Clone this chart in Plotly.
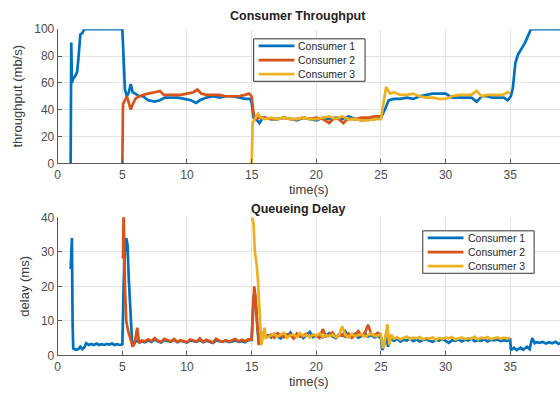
import plotly.graph_objects as go

# ---------------- data ----------------
names = ["Consumer 1", "Consumer 2", "Consumer 3"]
colors = ["#0072BD", "#D95319", "#EDB120"]

thr_c1 = [(1.0, 0), (1.05, 90), (1.1, 60), (1.2, 63), (1.35, 65), (1.5, 68), (1.6, 78), (1.7, 90),
          (1.75, 96), (1.9, 97), (2.05, 100), (5.0, 100), (5.1, 70), (5.2, 55), (5.35, 50), (5.5, 53),
          (5.65, 59), (5.8, 53), (6.0, 52), (6.3, 50), (6.6, 50), (7.0, 47), (7.5, 46), (7.9, 47),
          (8.3, 49), (8.8, 49), (9.3, 49), (9.8, 48), (10.3, 47), (10.7, 45), (11.0, 47), (11.5, 49),
          (12.0, 50), (12.5, 49), (13.0, 50), (13.5, 50), (14.0, 49), (14.5, 48), (14.9, 48),
          (15.0, 45), (15.15, 34), (15.35, 33), (15.6, 30), (15.8, 33), (16.0, 34), (16.5, 33),
          (17.0, 33), (17.5, 34), (18.0, 33), (18.5, 32), (19.0, 34), (19.5, 33), (20.0, 32),
          (20.5, 34), (21.0, 33), (21.5, 34), (22.0, 33), (22.5, 35), (23.0, 33), (23.5, 32),
          (24.0, 33), (24.5, 33), (25.0, 34), (25.3, 40), (25.6, 47), (26.0, 48), (26.5, 48),
          (27.0, 49), (27.5, 48), (28.0, 50), (28.5, 51), (29.0, 52), (29.5, 52), (30.0, 52),
          (30.5, 49), (31.0, 49), (31.5, 49), (32.0, 49), (32.4, 46), (32.8, 50), (33.2, 50),
          (33.6, 49), (34.0, 49), (34.5, 49), (34.8, 47), (35.05, 50), (35.2, 56), (35.4, 75),
          (35.6, 81), (35.9, 86), (36.15, 90), (36.6, 100), (39.0, 100)]

thr_c2 = [(5.0, 0), (5.05, 44), (5.2, 47), (5.35, 50), (5.5, 45), (5.65, 40), (5.8, 44), (6.0, 48),
          (6.3, 50), (6.6, 51), (7.0, 52), (7.5, 53), (7.9, 54), (8.2, 51), (8.6, 51), (9.0, 51),
          (9.5, 51), (10.0, 52), (10.5, 53), (10.8, 55), (11.1, 52), (11.5, 51), (12.0, 51),
          (12.5, 51), (13.0, 50), (13.5, 50), (14.0, 50), (14.5, 51), (14.8, 52), (15.0, 50),
          (15.15, 37), (15.3, 33), (15.6, 34), (16.0, 34), (16.5, 33), (17.0, 33), (17.5, 34),
          (18.0, 33), (18.5, 33), (19.0, 34), (19.5, 33), (20.0, 34), (20.5, 33), (21.0, 30),
          (21.3, 33), (21.6, 34), (22.1, 30), (22.4, 33), (23.0, 33), (23.5, 34), (24.0, 34),
          (24.5, 35), (25.0, 35)]

thr_c3 = [(15.0, 0), (15.08, 30), (15.3, 34), (15.5, 37), (15.7, 34), (16.0, 33), (16.5, 34),
          (17.0, 33), (17.5, 34), (18.0, 33), (18.5, 33), (19.0, 34), (19.5, 33), (20.0, 33),
          (20.5, 34), (21.0, 35), (21.5, 33), (22.0, 35), (22.5, 33), (23.0, 33), (23.5, 32),
          (24.0, 32), (24.5, 33), (25.0, 33), (25.2, 45), (25.4, 57), (25.7, 52), (26.0, 53),
          (26.5, 51), (27.0, 51), (27.5, 52), (28.0, 50), (28.5, 49), (29.0, 49), (29.5, 48),
          (30.0, 48), (30.5, 50), (31.0, 51), (31.5, 51), (32.0, 51), (32.4, 54), (32.8, 50),
          (33.2, 51), (33.6, 51), (34.0, 51), (34.4, 51), (34.8, 53), (35.0, 52)]

dly_c1 = [(1.0, 25), (1.05, 34), (1.1, 34), (1.15, 10), (1.2, 2), (1.4, 1.6), (1.6, 1.8), (1.75, 2.5),
          (1.9, 1.8), (2.05, 2.2), (2.2, 3.5), (2.4, 3.0), (2.6, 3.3), (2.8, 3.0), (3.0, 3.4),
          (3.2, 3.0), (3.4, 3.2), (3.6, 3.0), (3.8, 3.3), (4.0, 3.1), (4.2, 3.4), (4.4, 3.0),
          (4.6, 3.2), (4.8, 3.0), (5.0, 3.2), (5.1, 20), (5.2, 30), (5.3, 34), (5.4, 32), (5.5, 22),
          (5.65, 10), (5.75, 4), (5.9, 3.5), (6.1, 4.2), (6.3, 4.0),
          (6.5, 4.1), (6.75, 3.8), (7.0, 4.3), (7.25, 3.9), (7.5, 4.6), (7.75, 4.0), (8.0, 3.7),
          (8.25, 4.4), (8.5, 4.1), (8.75, 3.9), (9.0, 4.5), (9.25, 3.8), (9.5, 4.2), (9.75, 4.0),
          (10.0, 3.7), (10.25, 4.3), (10.5, 4.1), (10.75, 3.9), (11.0, 4.4), (11.25, 3.8),
          (11.5, 4.2), (11.75, 4.0), (12.0, 3.6), (12.25, 4.3), (12.5, 4.1), (12.75, 3.9),
          (13.0, 4.2), (13.25, 3.8), (13.5, 4.0), (13.75, 4.3), (14.0, 3.9), (14.25, 4.1),
          (14.5, 3.8), (14.75, 4.4), (15.0, 4.5), (15.15, 17), (15.25, 18), (15.4, 10), (15.55, 3),
          (15.7, 6), (15.9, 6.5), (16.1, 5.5),
          (16.25, 5.8), (16.5, 5.2), (16.75, 6.3), (17.0, 5.5), (17.25, 4.9), (17.5, 6.0),
          (17.75, 5.4), (18.0, 6.6), (18.25, 5.1), (18.5, 5.7), (18.75, 6.2), (19.0, 5.0),
          (19.25, 5.9), (19.5, 6.8), (19.75, 5.3), (20.0, 5.6), (20.25, 6.1), (20.5, 5.2),
          (20.75, 5.8), (21.0, 6.4), (21.25, 5.5), (21.5, 5.0), (21.75, 6.0), (22.0, 5.7),
          (22.25, 6.9), (22.5, 5.3), (22.75, 5.8), (23.0, 6.2), (23.25, 5.1), (23.5, 5.6),
          (23.75, 6.5), (24.0, 5.4), (24.25, 5.9), (24.5, 5.2), (24.75, 5.7), (25.0, 5.0),
          (25.1, 1.5), (25.25, 3.0), (25.4, 6.0), (25.55, 2.5), (25.7, 5.0),
          (26.0, 4.2), (26.25, 4.8), (26.5, 4.0), (26.75, 4.5), (27.0, 4.3), (27.25, 4.9),
          (27.5, 4.1), (27.75, 4.6), (28.0, 4.0), (28.25, 4.4), (28.5, 4.7), (28.75, 4.2),
          (29.0, 3.9), (29.25, 4.5), (29.5, 4.3), (29.75, 4.8), (30.0, 4.1), (30.25, 3.6),
          (30.5, 4.4), (30.75, 4.2), (31.0, 4.6), (31.25, 4.0), (31.5, 4.5), (31.75, 4.3),
          (32.0, 4.9), (32.25, 4.1), (32.5, 4.4), (32.75, 4.2), (33.0, 4.7), (33.25, 4.0),
          (33.5, 4.5), (33.75, 4.3), (34.0, 4.6), (34.25, 4.1), (34.5, 4.4), (34.75, 4.2),
          (35.0, 4.5), (35.05, 1.5), (35.3, 2.2), (35.5, 1.5), (35.8, 2.2), (36.0, 1.6),
          (36.3, 2.5), (36.5, 1.8), (36.7, 5.0), (36.9, 3.5), (37.0, 3.8),
          (37.25, 3.6), (37.5, 3.9), (37.75, 3.4), (38.0, 3.8), (38.25, 3.5), (38.5, 3.9),
          (38.75, 3.3), (39.0, 3.7)]

dly_c2 = [(5.05, 28), (5.1, 42), (5.2, 20), (5.3, 10), (5.45, 7), (5.6, 5), (5.8, 2.5), (5.95, 3.5),
          (6.05, 6), (6.15, 8), (6.3, 3.5),
          (6.5, 4.3), (6.75, 4.0), (7.0, 4.6), (7.25, 4.1), (7.5, 5.0), (7.75, 4.2), (8.0, 3.9),
          (8.25, 4.8), (8.5, 4.3), (8.75, 4.0), (9.0, 4.7), (9.25, 3.9), (9.5, 4.4), (9.75, 4.1),
          (10.0, 3.8), (10.25, 4.6), (10.5, 4.2), (10.75, 4.0), (11.0, 4.9), (11.25, 3.9),
          (11.5, 4.5), (11.75, 4.1), (12.0, 3.7), (12.25, 4.8), (12.5, 4.2), (12.75, 3.9),
          (13.0, 4.4), (13.25, 4.0), (13.5, 4.3), (13.75, 4.7), (14.0, 4.0), (14.25, 4.5),
          (14.5, 4.1), (14.75, 4.6), (15.0, 4.5), (15.1, 15), (15.2, 20), (15.3, 17), (15.45, 8),
          (15.6, 3), (15.8, 6),
          (16.25, 5.5), (16.5, 6.0), (16.75, 5.1), (17.0, 6.4), (17.25, 5.7), (17.5, 5.2),
          (17.75, 6.1), (18.0, 5.8), (18.25, 4.9), (18.5, 6.3), (18.75, 5.4), (19.0, 5.9),
          (19.25, 6.2), (19.5, 5.3), (19.75, 6.0), (20.0, 5.6), (20.25, 5.0), (20.5, 7.6),
          (20.75, 5.5), (21.0, 5.8), (21.25, 6.6), (21.5, 5.2), (21.75, 5.7), (22.0, 6.0),
          (22.25, 5.4), (22.5, 6.3), (22.75, 5.1), (23.0, 5.9), (23.25, 7.0), (23.5, 5.6),
          (23.75, 6.2), (24.0, 8.9), (24.25, 6.1), (24.5, 5.8), (24.75, 6.5), (25.0, 6.0)]

dly_c3 = [(15.05, 40), (15.15, 38), (15.25, 30), (15.4, 26), (15.5, 21), (15.65, 8), (15.75, 3),
          (15.9, 6), (16.0, 8), (16.1, 5),
          (16.25, 5.2), (16.5, 5.7), (16.75, 6.2), (17.0, 5.4), (17.25, 5.9), (17.5, 6.5),
          (17.75, 5.1), (18.0, 5.8), (18.25, 6.0), (18.5, 5.3), (18.75, 6.4), (19.0, 5.6),
          (19.25, 5.9), (19.5, 5.2), (19.75, 6.1), (20.0, 5.7), (20.25, 6.3), (20.5, 5.4),
          (20.75, 5.8), (21.0, 5.5), (21.25, 6.0), (21.5, 5.3), (21.75, 5.6), (22.0, 8.4),
          (22.25, 5.9), (22.5, 5.2), (22.75, 6.2), (23.0, 5.5), (23.25, 5.8), (23.5, 6.1),
          (23.75, 5.4), (24.0, 5.9), (24.25, 6.3), (24.5, 5.6), (24.75, 5.8), (25.0, 6.0),
          (25.15, 2.0), (25.3, 4.0), (25.5, 9.0), (25.65, 3.0), (25.8, 6.0),
          (26.0, 4.8), (26.25, 5.2), (26.5, 4.6), (26.75, 5.0), (27.0, 5.4), (27.25, 4.7),
          (27.5, 5.1), (27.75, 4.9), (28.0, 5.3), (28.25, 4.6), (28.5, 5.0), (28.75, 4.8),
          (29.0, 5.2), (29.25, 4.5), (29.5, 5.0), (29.75, 4.7), (30.0, 5.1), (30.25, 4.9),
          (30.5, 5.3), (30.75, 4.6), (31.0, 4.9), (31.25, 5.2), (31.5, 4.7), (31.75, 5.0),
          (32.0, 4.8), (32.25, 5.4), (32.5, 4.6), (32.75, 5.1), (33.0, 4.9), (33.25, 5.3),
          (33.5, 4.7), (33.75, 5.0), (34.0, 5.2), (34.25, 4.8), (34.5, 5.1), (34.75, 4.9),
          (35.0, 5.0)]

x_ticks = [0, 5, 10, 15, 20, 25, 30, 35, 40]
thr_ticks = [0, 20, 40, 60, 80, 100]
dly_ticks = [0, 10, 20, 30, 40]

# ---------------- figure ----------------
W, H = 560, 398
FONT = "Liberation Sans, Arial, Helvetica, sans-serif"
fig = go.Figure()

for series, name, col in zip([thr_c1, thr_c2, thr_c3], names, colors):
    t, v = zip(*series)
    fig.add_trace(go.Scatter(x=t, y=v, mode="lines", name=name, line=dict(color=col, width=2.7),
                             xaxis="x", yaxis="y", showlegend=False))
for series, name, col in zip([dly_c1, dly_c2, dly_c3], names, colors):
    t, v = zip(*series)
    fig.add_trace(go.Scatter(x=t, y=v, mode="lines", name=name, line=dict(color=col, width=2.7),
                             xaxis="x2", yaxis="y2", showlegend=False))

x0 = 55 / W
top_dom = [1 - 162 / H, 1 - 23 / H]
bot_dom = [1 - 361 / H, 1 - 218 / H]

axis_common = dict(showline=True, linecolor="#5a5a5a", linewidth=1, mirror=False,
                   ticks="inside", ticklen=4, tickcolor="#5a5a5a",
                   showgrid=True, gridcolor="#e3e3e3", gridwidth=1, zeroline=False,
                   tickfont=dict(family=FONT, size=12, color="#4d4d4d"))
title_font = dict(family=FONT, size=13, color="#3a3a3a")

shapes = []
annotations = [
    dict(text="<b>Consumer Throughput</b>", x=297 / W, y=1 - 9 / H, xref="paper", yref="paper",
         xanchor="center", yanchor="middle", showarrow=False,
         font=dict(family=FONT, size=12.5, color="#222222")),
    dict(text="<b>Queueing Delay</b>", x=297 / W, y=1 - 209 / H, xref="paper", yref="paper",
         xanchor="center", yanchor="middle", showarrow=False,
         font=dict(family=FONT, size=12.5, color="#222222")),
]


def add_legend(box_l, box_t, box_r, box_b):
    """Boxed MATLAB-style legend drawn in pixel positions converted to paper coords."""
    shapes.append(dict(type="rect", xref="paper", yref="paper",
                       x0=box_l / W, x1=box_r / W, y0=1 - box_b / H, y1=1 - box_t / H,
                       fillcolor="white", line=dict(color="#333333", width=1), layer="above"))
    row_h = (box_b - box_t) / 3.0
    for i, (nm, col) in enumerate(zip(names, colors)):
        yc = box_t + row_h * (i + 0.5)
        shapes.append(dict(type="line", xref="paper", yref="paper",
                           x0=(box_l + 5) / W, x1=(box_l + 41) / W, y0=1 - yc / H, y1=1 - yc / H,
                           line=dict(color=col, width=2.7), layer="above"))
        annotations.append(dict(text=nm, x=(box_l + 43) / W, y=1 - yc / H, xref="paper",
                                yref="paper", xanchor="left", yanchor="middle", showarrow=False,
                                font=dict(family=FONT, size=10.5, color="#262626")))


add_legend(252, 33, 364, 77)
add_legend(422, 232, 534, 276)

fig.update_layout(
    width=W, height=H, margin=dict(l=0, r=0, t=0, b=0),
    paper_bgcolor="white", plot_bgcolor="white", showlegend=False,
    xaxis=dict(domain=[x0, 1], range=[0, 38.85], tickvals=x_ticks, anchor="y",
               title=dict(text="time(s)", font=title_font, standoff=3), **axis_common),
    yaxis=dict(domain=top_dom, range=[0, 100], tickvals=thr_ticks, anchor="x",
               title=dict(text="throughput (mb/s)", font=title_font, standoff=8), **axis_common),
    xaxis2=dict(domain=[x0, 1], range=[0, 38.85], tickvals=x_ticks, anchor="y2",
                title=dict(text="time(s)", font=title_font, standoff=3), **axis_common),
    yaxis2=dict(domain=bot_dom, range=[0, 40], tickvals=dly_ticks, anchor="x2",
                title=dict(text="delay (ms)", font=title_font, standoff=8), **axis_common),
    shapes=shapes,
    annotations=annotations,
)

fig.write_html("out.html")
